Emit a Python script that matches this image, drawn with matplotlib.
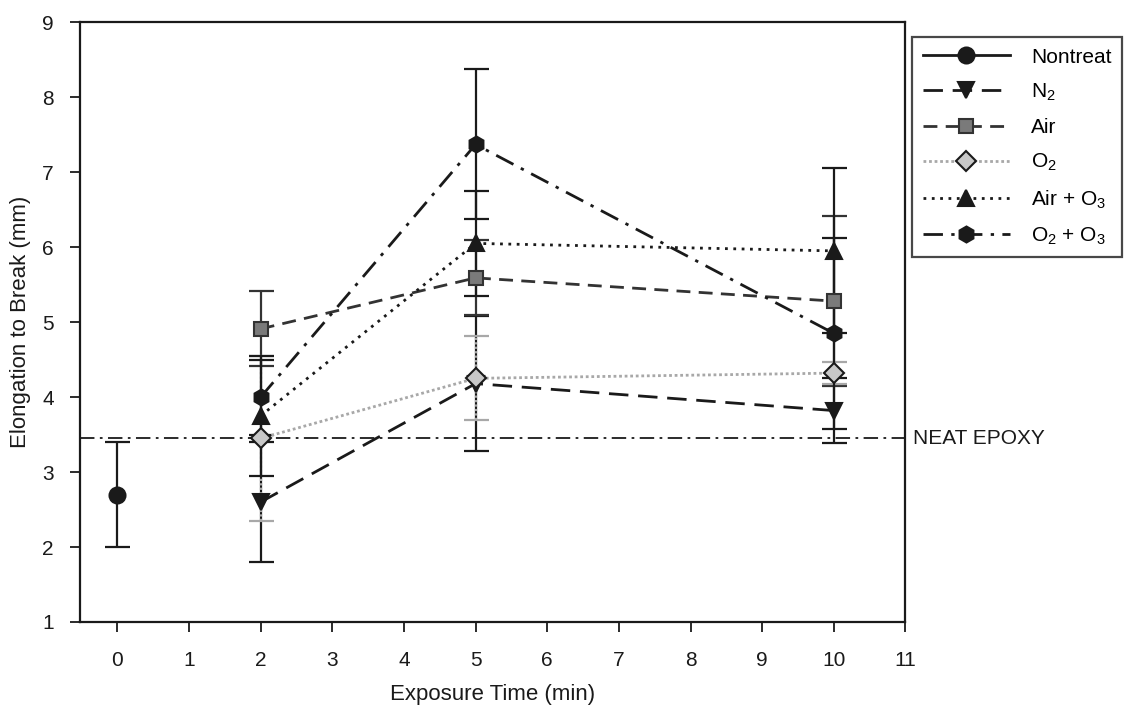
import matplotlib
matplotlib.use("Agg")
import matplotlib.pyplot as plt
from matplotlib.lines import Line2D

plt.rcParams['font.family'] = ['Liberation Sans', 'DejaVu Sans']
plt.rcParams['mathtext.default'] = 'regular'

# ---- data ----
x_nontreat = [0]
y_nontreat = [2.7]
e_nontreat = [0.7]

x_treat = [2, 5, 10]
y_n2 = [2.6, 4.18, 3.82]
e_n2 = [0.8, 0.9, 0.43]
y_air = [4.91, 5.59, 5.28]
e_air = [0.5, 0.5, 1.13]
y_o2 = [3.45, 4.25, 4.32]
e_o2 = [1.1, 0.56, 0.15]
y_airo3 = [3.75, 6.05, 5.95]
e_airo3 = [0.8, 0.7, 1.1]
y_o2o3 = [4.0, 7.37, 4.85]
e_o2o3 = [0.5, 1.0, 1.27]

neat_epoxy = 3.45
labels = ['Nontreat', 'N$_2$', 'Air', 'O$_2$', 'Air + O$_3$', 'O$_2$ + O$_3$']
x_ticks = list(range(0, 12))
y_ticks = list(range(1, 10))

# ---- figure ----
fig = plt.figure(figsize=(11.29, 7.17), dpi=100)
ax = fig.add_axes([0.071, 0.1325, 0.731, 0.8365])

lw = 2.0
ms = 11.5
cap = 9

styles = [
    dict(x=x_nontreat, y=y_nontreat, e=e_nontreat, ls='-', marker='o', mfc='#1a1a1a', mec='#1a1a1a', color='#1a1a1a', ecolor='#1a1a1a', els='-'),
    dict(x=x_treat, y=y_n2, e=e_n2, ls=(0, (7, 3.5)), marker='v', mfc='#1a1a1a', mec='#1a1a1a', color='#1a1a1a', ecolor='#1a1a1a', els='-'),
    dict(x=x_treat, y=y_air, e=e_air, ls=(0, (5, 3)), marker='s', mfc='#7a7a7a', mec='#333333', color='#333333', ecolor='#333333', els='-'),
    dict(x=x_treat, y=y_o2, e=e_o2, ls=(0, (1, 1)), marker='D', mfc='#c8c8c8', mec='#1a1a1a', color='#a8a8a8', ecolor='#a8a8a8', els=(0, (1, 1))),
    dict(x=x_treat, y=y_airo3, e=e_airo3, ls=(0, (1, 2)), marker='^', mfc='#1a1a1a', mec='#1a1a1a', color='#1a1a1a', ecolor='#1a1a1a', els='-'),
    dict(x=x_treat, y=y_o2o3, e=e_o2o3, ls=(0, (7, 3, 1.2, 3)), marker='h', mfc='#1a1a1a', mec='#1a1a1a', color='#1a1a1a', ecolor='#1a1a1a', els='-'),
]

handles = []
for st, lab in zip(styles, labels):
    eb = ax.errorbar(st['x'], st['y'], yerr=st['e'], fmt='none', ecolor=st['ecolor'],
                     elinewidth=1.6, capsize=cap, capthick=1.6, zorder=2)
    eb[2][0].set_linestyle(st['els'])
    ms_i = ms * (0.85 if st['marker'] in ('D', 's') else 1.0)
    ax.plot(st['x'], st['y'], linestyle=st['ls'], color=st['color'], lw=lw,
            marker=st['marker'], ms=ms_i, mfc=st['mfc'], mec=st['mec'], mew=1.5, zorder=3)
    handles.append(Line2D([], [], linestyle=st['ls'], color=st['color'], lw=lw,
                          marker=st['marker'], ms=ms_i, mfc=st['mfc'], mec=st['mec'], mew=1.5))

ax.axhline(neat_epoxy, color='#1a1a1a', lw=1.3, ls=(0, (8, 3, 1.5, 3)), zorder=1)
ax.text(1.009, (neat_epoxy - 1) / 8, 'NEAT EPOXY', transform=ax.transAxes,
        fontsize=15, va='center', ha='left', color='#1a1a1a')

ax.set_xlim(-0.52, 11)
ax.set_ylim(1, 9)
ax.set_xticks(x_ticks)
ax.set_yticks(y_ticks)
ax.tick_params(direction='out', length=7, width=1.3, labelsize=15, colors='#1a1a1a')
ax.tick_params(axis='x', pad=14)
ax.tick_params(axis='y', pad=12)
for s in ax.spines.values():
    s.set_linewidth(1.6)
    s.set_color('#1a1a1a')
ax.set_xlabel('Exposure Time (min)', fontsize=16, color='#1a1a1a', labelpad=10)
ax.set_ylabel('Elongation to Break (mm)', fontsize=16, color='#1a1a1a', labelpad=8)

leg = fig.legend(handles, labels, loc='upper left', bbox_to_anchor=(0.808, 0.948),
                 borderaxespad=0, fontsize=15, handlelength=4.2, frameon=True, fancybox=False,
                 edgecolor='#1a1a1a', borderpad=0.5, labelspacing=0.72, handletextpad=1.0)
leg.get_frame().set_linewidth(1.6)

fig.savefig('out.png', dpi=100)
